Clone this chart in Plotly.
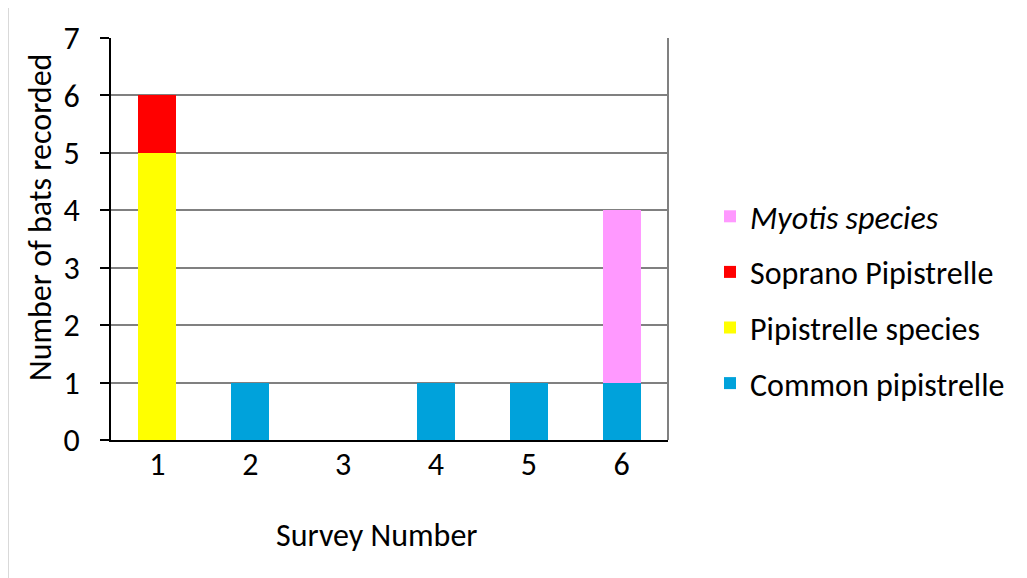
import plotly.graph_objects as go

surveys = ["1", "2", "3", "4", "5", "6"]
common_pipistrelle = [0, 1, 0, 1, 1, 1]
pipistrelle_species = [5, 0, 0, 0, 0, 0]
soprano_pipistrelle = [1, 0, 0, 0, 0, 0]
myotis_species = [0, 0, 0, 0, 0, 3]
y_ticks = [0, 1, 2, 3, 4, 5, 6, 7]

FONT = "Carlito, Lato, sans-serif"
FS = 32

series = [
    ("Common pipistrelle", common_pipistrelle, "#00A2DB"),
    ("Pipistrelle species", pipistrelle_species, "#FFFF00"),
    ("Soprano Pipistrelle", soprano_pipistrelle, "#FF0000"),
    ("<i>Myotis species</i>", myotis_species, "#FF99FF"),
]

fig = go.Figure()
for i, (name, vals, col) in enumerate(series):
    fig.add_trace(go.Bar(
        x=surveys, y=vals, name=name, width=0.41,
        marker=dict(color=col, line=dict(width=0)),
        legendrank=len(series) - i,
        legendgroup=f"g{i}",
    ))

W, H = 1027, 578
DX, DY = 7, 8  # page offset of the figure
L_REF, R_REF, T_REF, B_REF = 110, 667, 38, 440
pw = R_REF - L_REF
ph = B_REF - T_REF
L = L_REF - DX
T = T_REF - DY
R = W - L - pw
B = H - T - ph

def px_x(p):
    return (p - L_REF) / pw

def px_y(p):
    return (B_REF - p) / ph

fig.update_layout(
    width=W, height=H,
    barmode="stack",
    margin=dict(l=L, r=R, t=T, b=B, autoexpand=False),
    paper_bgcolor="white",
    plot_bgcolor="white",
    font=dict(family=FONT, size=FS, color="black"),
    showlegend=True,
    legend=dict(
        x=px_x(709), xanchor="left",
        y=px_y(300), yanchor="middle",
        traceorder="grouped",
        tracegroupgap=11,
        font=dict(family=FONT, size=FS, color="black"),
        bgcolor="rgba(0,0,0,0)",
    ),
    xaxis=dict(
        showgrid=False, showline=True, linecolor="black", linewidth=2,
        ticks="", ticklabelstandoff=-5, zeroline=False,
        tickfont=dict(family=FONT, size=FS),
    ),
    yaxis=dict(
        range=[0, 7], tickvals=y_ticks, ticktext=[str(v) for v in y_ticks],
        showgrid=True, gridcolor="#808080", gridwidth=2,
        showline=True, linecolor="black", linewidth=2,
        ticks="outside", ticklen=9, tickwidth=2, tickcolor="black",
        ticklabelstandoff=14, zeroline=False,
        tickfont=dict(family=FONT, size=FS),
    ),
    annotations=[
        dict(text="Number of bats recorded", xref="paper", yref="paper",
             x=px_x(40), y=px_y(218), textangle=-90, showarrow=False,
             xanchor="center", yanchor="middle",
             font=dict(family=FONT, size=FS)),
        dict(text="Survey Number", xref="paper", yref="paper",
             x=px_x(375), y=px_y(535), showarrow=False,
             xanchor="center", yanchor="middle",
             font=dict(family=FONT, size=FS)),
    ],
    shapes=[
        dict(type="line", xref="paper", yref="paper", x0=1, x1=1, y0=0, y1=1,
             line=dict(color="#808080", width=2), layer="above"),
        dict(type="rect", xref="paper", yref="paper",
             x0=px_x(7), x1=px_x(1040), y0=px_y(4), y1=px_y(590),
             line=dict(color="#D9D9D9", width=2), layer="below"),
    ],
)

fig.write_html("out.html")
